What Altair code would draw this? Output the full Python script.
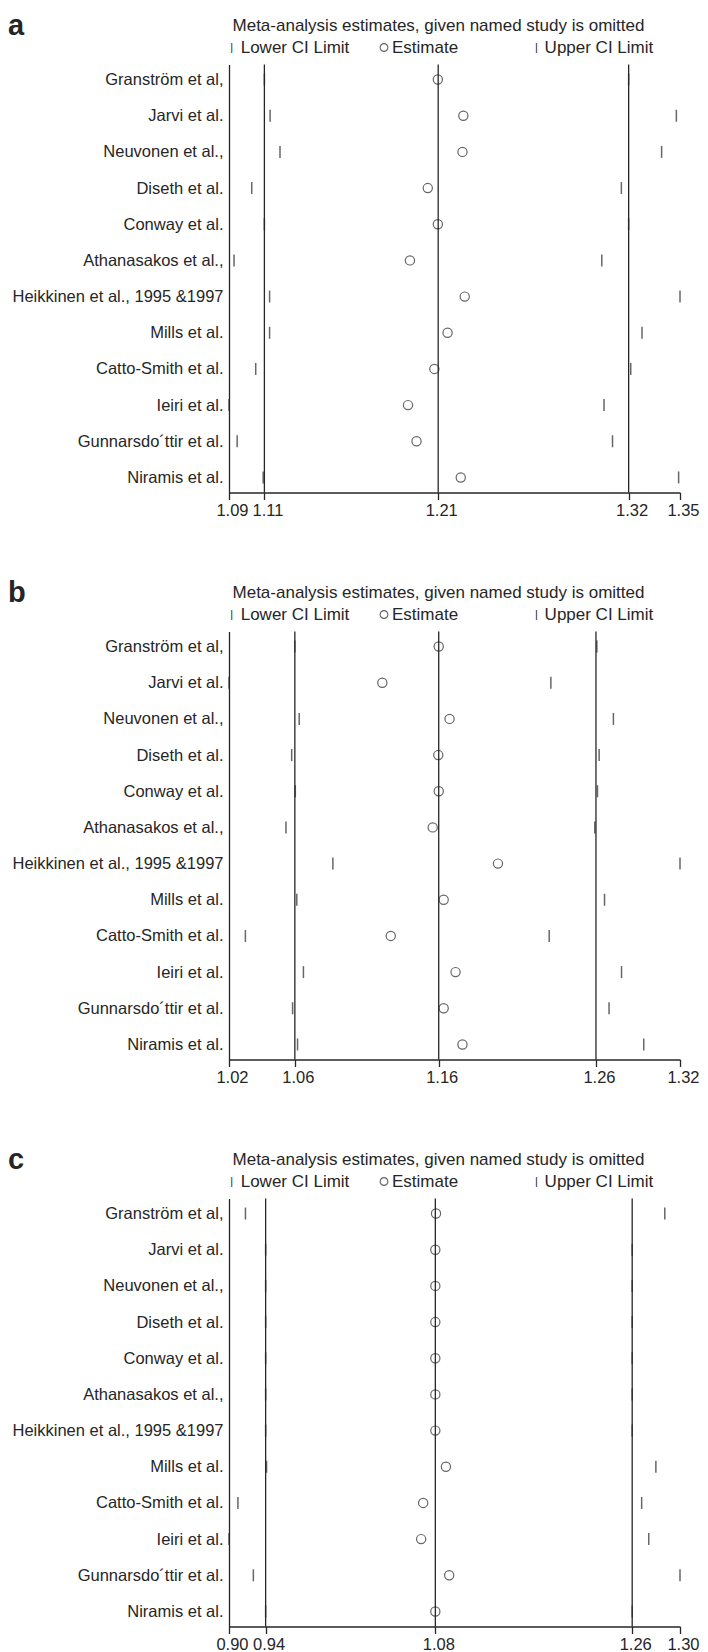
import altair as alt
import pandas as pd

NB = "\u00a0"
STUDIES = [
    "Granström et al," + NB * 4,
    "Jarvi et al.",
    "Neuvonen et al.,",
    "Diseth et al.",
    "Conway et al.",
    "Athanasakos et al.," + NB,
    "Heikkinen et al., 1995 &1997" + NB,
    "Mills et al.",
    "Catto-Smith et al.",
    "Ieiri et al.",
    "Gunnarsdo´ttir et al.",
    "Niramis et al.",
]

TITLE = "Meta-analysis estimates, given named study is omitted"
LEGEND_LOWER = "Lower CI Limit"
LEGEND_EST = "Estimate"
LEGEND_UPPER = "Upper CI Limit"

# panel a
A_LOWER = [1.1104, 1.1137, 1.1194, 1.1031, 1.1104, 1.0929, 1.1134, 1.1134, 1.1054, 1.0900, 1.0947, 1.1097]
A_EST = [1.2104, 1.2251, 1.2246, 1.2046, 1.2104, 1.1943, 1.2259, 1.2160, 1.2084, 1.1932, 1.1981, 1.2236]
A_UPPER = [1.3204, 1.3479, 1.3394, 1.3162, 1.3204, 1.3049, 1.3500, 1.3281, 1.3216, 1.3062, 1.3111, 1.3492]
A_REF = [1.1104, 1.2106, 1.3204]
A_TICKS = [1.09, 1.1104, 1.2106, 1.3204, 1.35]
A_TICK_LABELS = ["1.09", "1.11", "1.21", "1.32", "1.35"]

# panel b
B_LOWER = [1.0638, 1.0200, 1.0667, 1.0617, 1.0641, 1.0579, 1.0891, 1.0651, 1.0309, 1.0695, 1.0623, 1.0656]
B_EST = [1.1595, 1.1220, 1.1667, 1.1592, 1.1595, 1.1555, 1.1989, 1.1628, 1.1276, 1.1707, 1.1628, 1.1753]
B_UPPER = [1.2647, 1.2341, 1.2757, 1.2662, 1.2651, 1.2633, 1.3200, 1.2698, 1.2330, 1.2811, 1.2728, 1.2959]
B_REF = [1.0638, 1.1595, 1.2641]
B_TICKS = [1.02, 1.0638, 1.1595, 1.2641, 1.32]
B_TICK_LABELS = ["1.02", "1.06", "1.16", "1.26", "1.32"]

# panel c
C_LOWER = [0.9146, 0.9325, 0.9325, 0.9325, 0.9325, 0.9325, 0.9325, 0.9333, 0.9079, 0.9000, 0.9216, 0.9325]
C_EST = [1.0836, 1.0830, 1.0830, 1.0830, 1.0830, 1.0830, 1.0830, 1.0924, 1.0722, 1.0704, 1.0953, 1.0830]
C_UPPER = [1.2865, 1.2576, 1.2576, 1.2576, 1.2576, 1.2576, 1.2576, 1.2786, 1.2660, 1.2723, 1.3000, 1.2576]
C_REF = [0.9325, 1.0830, 1.2576]
C_TICKS = [0.90, 0.9325, 1.0830, 1.2576, 1.30]
C_TICK_LABELS = ["0.90", "0.94", "1.08", "1.26", "1.30"]

FONT = "Liberation Sans"
INK = "#262626"
W, H = 451, 428


def label_expr(ticks, labels):
    expr = "'" + labels[-1] + "'"
    for i in range(len(ticks) - 2, -1, -1):
        mid = (ticks[i] + ticks[i + 1]) / 2
        expr = f"datum.value < {mid:.5f} ? '{labels[i]}' : ({expr})"
    return expr


def text_layer(txt, x, y, size, align="left", baseline="middle", weight="normal"):
    return alt.Chart(pd.DataFrame({"t": [txt]})).mark_text(
        align=align, baseline=baseline, fontSize=size, font=FONT,
        fontWeight=weight, color=INK,
    ).encode(text="t:N", x=alt.value(x), y=alt.value(y))


def panel(letter, lower, est, upper, ref, ticks, tick_labels):
    df = pd.DataFrame({"study": STUDIES, "lower": lower, "est": est, "upper": upper})
    refdf = pd.DataFrame({"v": ref})
    xs = alt.Scale(domain=[ticks[0], ticks[-1]], nice=False, zero=False)
    ys = alt.Scale(type="point", padding=0.416, domain=STUDIES)
    xaxis = alt.Axis(
        values=ticks, labelExpr=label_expr(ticks, tick_labels), title=None,
        grid=False, tickSize=7, domainColor=INK, tickColor=INK,
        domainWidth=1.3, tickWidth=1.3, labelFontSize=16.5, labelFont=FONT,
        labelColor=INK, labelOverlap=False, labelFlush=False, labelPadding=3,
        labelOffset=3,
    )
    yaxis = alt.Axis(
        title=None, ticks=False, grid=False, domainColor=INK, domainWidth=1.3,
        labelFontSize=16.5, labelFont=FONT, labelColor=INK, labelPadding=6,
        labelLimit=0,
    )
    y_enc = alt.Y("study:N", scale=ys, axis=yaxis, sort=STUDIES)
    rules = alt.Chart(refdf).mark_rule(color=INK, strokeWidth=1.3).encode(
        x=alt.X("v:Q", scale=xs, axis=xaxis)
    )
    lo = alt.Chart(df).mark_tick(color=INK, size=12, thickness=1.5).encode(
        x=alt.X("lower:Q", scale=xs, axis=xaxis), y=y_enc
    )
    up = alt.Chart(df).mark_tick(color=INK, size=12, thickness=1.5).encode(
        x=alt.X("upper:Q", scale=xs, axis=xaxis), y=y_enc
    )
    pts = alt.Chart(df).mark_point(
        shape="circle", filled=False, size=85, strokeWidth=1.2, color=INK
    ).encode(x=alt.X("est:Q", scale=xs, axis=xaxis), y=y_enc)

    legend_pt = alt.Chart(pd.DataFrame({"k": [0]})).mark_point(
        shape="circle", filled=False, size=60, strokeWidth=1.1, color=INK
    ).encode(x=alt.value(155), y=alt.value(-17))

    layers = [
        rules, lo, up, pts,
        text_layer(TITLE, 209.5, -39, 17, align="center"),
        text_layer("|", 2.7, -17, 11, align="center"),
        text_layer(LEGEND_LOWER, 11.7, -17, 17),
        legend_pt,
        text_layer(LEGEND_EST, 163, -17, 17),
        text_layer("|", 307.5, -17, 11, align="center"),
        text_layer(LEGEND_UPPER, 315.6, -17, 17),
        text_layer(letter, -221, -29.5, 29, baseline="alphabetic", weight="bold"),
    ]
    return alt.layer(*layers).properties(width=W, height=H)


chart = alt.vconcat(
    panel("a", A_LOWER, A_EST, A_UPPER, A_REF, A_TICKS, A_TICK_LABELS),
    panel("b", B_LOWER, B_EST, B_UPPER, B_REF, B_TICKS, B_TICK_LABELS),
    panel("c", C_LOWER, C_EST, C_UPPER, C_REF, C_TICKS, C_TICK_LABELS),
    spacing=59,
).configure_view(stroke=None).properties(
    padding={"top": 3.5, "left": 0, "right": 0, "bottom": 0},
    background="white",
)

chart.save("out.html", embed_options={"renderer": "svg", "actions": False})
